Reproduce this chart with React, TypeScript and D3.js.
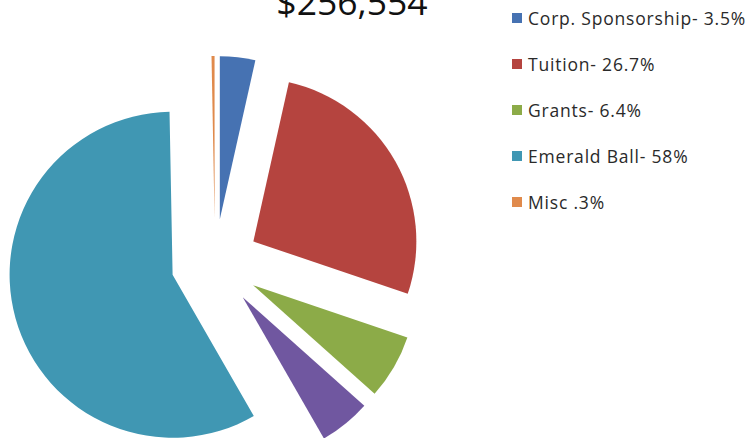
import React, { useEffect, useRef } from "react";
import * as d3 from "d3";

const categories = ["Corp. Sponsorship", "Tuition", "Grants", "", "Emerald Ball", "Misc"];
const percents = [3.5, 26.7, 6.4, 5.1, 58, 0.3];
const legendLabels = [
  "Corp. Sponsorship- 3.5%",
  "Tuition- 26.7%",
  "Grants- 6.4%",
  "Emerald Ball- 58%",
  "Misc .3%",
];
const colors = ["#4672B2", "#B5443F", "#8CAB48", "#7057A0", "#4097B3", "#E08A4C"];
const title = "$256,554";

const App: React.FC = () => {
  const ref = useRef<SVGSVGElement | null>(null);

  useEffect(() => {
    const width = 751;
    const height = 438;
    const svg = d3.select(ref.current);
    svg.selectAll("*").remove();
    svg.attr("width", width).attr("height", height);

    const data = categories.map((c, i) => ({ name: c, value: percents[i], color: colors[i] }));
    type D = (typeof data)[number];

    const radius = 163;
    const explode = 44;
    const cx = 215;
    const cy = 263;

    const pie = d3.pie<D>().sort(null).value(d => d.value);
    const arc = d3.arc<d3.PieArcDatum<D>>().innerRadius(0).outerRadius(radius);

    const g = svg.append("g").attr("transform", `translate(${cx},${cy})`);
    g.selectAll("path")
      .data(pie(data))
      .enter()
      .append("path")
      .attr("d", arc)
      .attr("fill", d => d.data.color)
      .attr("transform", d => {
        const a = (d.startAngle + d.endAngle) / 2;
        return `translate(${Math.sin(a) * explode},${-Math.cos(a) * explode})`;
      });

    // title is clipped by the top edge, as in the original
    svg
      .append("text")
      .attr("x", 352)
      .attr("y", 15)
      .attr("text-anchor", "middle")
      .attr("font-family", "'Open Sans', sans-serif")
      .attr("font-size", 35.5)
      .attr("fill", "#111")
      .text(title);

    // legend skips the unlabeled purple slice
    const legendItems = data
      .filter(d => d.name !== "")
      .map((d, i) => ({ label: legendLabels[i], color: d.color }));

    const leg = svg
      .selectAll(".leg")
      .data(legendItems)
      .enter()
      .append("g")
      .attr("class", "leg")
      .attr("transform", (_, i) => `translate(512,${25 + i * 46})`);

    leg.append("rect").attr("x", 0).attr("y", -12).attr("width", 10).attr("height", 10).attr("fill", d => d.color);
    leg
      .append("text")
      .attr("x", 16)
      .attr("y", 0)
      .attr("font-family", "'Open Sans', sans-serif")
      .attr("font-size", 17.5)
      .attr("letter-spacing", 0.8)
      .attr("fill", "#2a2a2a")
      .text(d => d.label);
  }, []);

  return <svg ref={ref} style={{ position: "absolute", left: 0, top: 0 }}></svg>;
};

export default App;
